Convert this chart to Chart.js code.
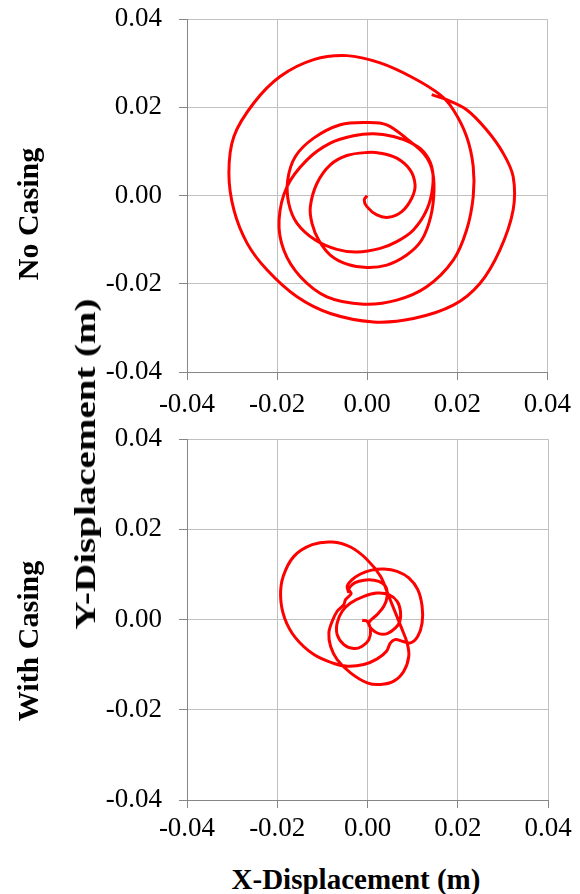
<!DOCTYPE html>
<html lang="en">
<head>
  <meta charset="UTF-8">
  <title>Orbit plots - No Casing / With Casing</title>
  <script src="https://cdn.jsdelivr.net/npm/chart.js"></script>
  <style>
    body { margin: 0; background: #fff; }
    #wrap { position: relative; width: 580px; height: 894px; overflow: hidden; }
    canvas { position: absolute; left: 0; }
    .lbl { position: absolute; font-family: "Liberation Serif", "Times New Roman", serif; font-weight: bold; color: #000; white-space: nowrap; line-height: 1; }
    .rot { transform: translate(-50%, -50%) rotate(-90deg); }
  </style>
</head>
<body>
  <div id="wrap">
    <canvas id="top" style="top:-14px; width:580px; height:434px" width="580" height="434"></canvas>
    <canvas id="bottom" style="top:406px; width:580px; height:454px" width="580" height="454"></canvas>

    <div class="lbl rot" style="left:28px; top:214px; font-size:30px">No Casing</div>
    <div class="lbl rot" style="left:28px; top:641px; font-size:30px">With Casing</div>
    <div class="lbl" style="left:85px; top:464px; font-size:30px; transform: translate(-50%, -50%) rotate(-90deg) scaleX(1.3)">Y-Displacement (m)</div>
    <div class="lbl" style="left:356px; top:879px; font-size:29px; transform: translate(-50%, -50%)">X-Displacement (m)</div>
  </div>

  <script>
    // axis ticks (both axes, both plots)
    const tickValues = [-0.04, -0.02, 0, 0.02, 0.04];
    const tickLabels = ['-0.04', '-0.02', '0.00', '0.02', '0.04'];

    // No Casing orbit (m)
    const noCasingX = [0.0000, -0.00066, -0.00007, 0.00214, 0.00472, 0.00768, 0.00989, 0.01063, 0.00952, 0.00657,
      0.00288, -0.00007, -0.0045, -0.00819, -0.01114, -0.01262, -0.01225, -0.01077, -0.00819, -0.0045,
      -0.00007, 0.00435, 0.00878, 0.0121, 0.0141, 0.01483, 0.01432, 0.01247, 0.00952, 0.00435,
      -0.00044, -0.00598, -0.01188, -0.01594, -0.01764, -0.01742, -0.01557, -0.01151, -0.00672, -0.00229,
      0.00288, 0.00657, 0.01026, 0.01321, 0.01454, 0.01432, 0.01247, 0.00952, 0.00583, 0.0014,
      -0.00303, -0.00819, -0.01336, -0.01779, -0.01956, -0.01852, -0.01483, -0.00893, -0.00081, 0.00657,
      0.01321, 0.01911, 0.02207, 0.02354, 0.02354, 0.02207, 0.01911, 0.01616, 0.01026, 0.00288,
      -0.0045, -0.01188, -0.01926, -0.02517, -0.02959, -0.0307, -0.02959, -0.02664, -0.02221, -0.01557,
      -0.00819, 0.0014, 0.01026, 0.01911, 0.02502, 0.02945, 0.0324, 0.0324, 0.03018, 0.02649,
      0.02207, 0.01764, 0.01432];
    const noCasingY = [0.0000, -0.00098, -0.0025, -0.00439, -0.00492, -0.00364, -0.00061, 0.00242, 0.00583, 0.00849,
      0.00962, 0.00977, 0.00909, 0.00697, 0.0028, -0.0025, -0.00629, -0.01008, -0.01348, -0.01553,
      -0.01629, -0.01576, -0.01348, -0.01008, -0.00477, 0.00129, 0.00621, 0.00962, 0.01227, 0.01606,
      0.01659, 0.01606, 0.01303, 0.00886, 0.00356, -0.00174, -0.00629, -0.01008, -0.0122, -0.0128,
      -0.01197, -0.01045, -0.0078, -0.00326, 0.00205, 0.00659, 0.01, 0.01205, 0.01341, 0.01402,
      0.01356, 0.01189, 0.00811, 0.00205, -0.00553, -0.01235, -0.01841, -0.02296, -0.02462, -0.02371,
      -0.02068, -0.01462, -0.0078, -0.00023, 0.00659, 0.01341, 0.01947, 0.02288, 0.02667, 0.03008,
      0.03174, 0.03083, 0.02705, 0.02099, 0.01341, 0.00508, -0.00326, -0.01083, -0.01689, -0.02296,
      -0.02674, -0.02864, -0.02788, -0.02485, -0.01992, -0.01235, -0.00326, 0.00432, 0.00962, 0.01492,
      0.01947, 0.02174, 0.02288];

    // With Casing orbit (m)
    const withCasingX = [-0.00118, -0.00007, 0.00066, 0.0003, -0.00118, -0.00303, -0.00524, -0.00672, -0.00672, -0.00561,
      -0.00376, -0.00081, 0.00214, 0.00472, 0.00657, 0.00731, 0.00716, 0.0062, 0.00435, 0.00251,
      0.00103, 0.0003, 0.00214, 0.00362, 0.00435, 0.00399, 0.00251, 0.0003, -0.00192, -0.00339,
      -0.00413, -0.00362, -0.00487, -0.00524, -0.00672, -0.00782, -0.00856, -0.00819, -0.00672, -0.00376,
      -0.00007, 0.00288, 0.00583, 0.00804, 0.00915, 0.00878, 0.00768, 0.0062, 0.00472, 0.00288,
      -0.00007, -0.00376, -0.00782, -0.01225, -0.01631, -0.01867, -0.01926, -0.01838, -0.01594, -0.01188,
      -0.00745, -0.0045, -0.00081, 0.00214, 0.00421, 0.00509, 0.0062, 0.00768, 0.00952, 0.01114,
      0.0121, 0.0121, 0.01114, 0.00915, 0.00657, 0.00362, 0.00066, -0.00155, -0.00339, -0.0045,
      -0.00413];
    const withCasingY = [-0.00015, -0.00037, -0.00221, -0.00443, -0.0059, -0.00642, -0.00554, -0.00332, -0.00074, 0.00185,
      0.00369, 0.00517, 0.0059, 0.00554, 0.00406, 0.00185, -0.00037, -0.00185, -0.0031, -0.0031,
      -0.00221, -0.00074, 0.00111, 0.00295, 0.00517, 0.00738, 0.00849, 0.00886, 0.00849, 0.00775,
      0.00664, 0.00576, 0.00443, 0.00332, 0.00185, -0.00037, -0.00295, -0.0059, -0.00886, -0.01181,
      -0.01402, -0.01439, -0.01365, -0.01144, -0.00812, -0.00517, -0.00221, 0.00148, 0.00517, 0.00959,
      0.01328, 0.01609, 0.0172, 0.01661, 0.01402, 0.00959, 0.00517, 0.00037, -0.00406, -0.00775,
      -0.00974, -0.01033, -0.00996, -0.00871, -0.00701, -0.00517, -0.00443, -0.0048, -0.00517, -0.00369,
      -0.00074, 0.00295, 0.00664, 0.00923, 0.0107, 0.01122, 0.01092, 0.01011, 0.00886, 0.00738,
      0.0059];

    const tickFont = { family: "'Liberation Serif', 'Times New Roman', serif", size: 27 };

    function axis(kind, fixedSize, labelPad) {
      return {
        type: 'linear',
        min: -0.04,
        max: 0.04,
        afterBuildTicks: s => { s.ticks = tickValues.map(v => ({ value: v })); },
        afterFit: s => { if (kind === 'x') s.height = fixedSize; else s.width = fixedSize; },
        ticks: {
          color: '#000',
          font: tickFont,
          padding: labelPad,
          maxRotation: 0,
          callback: (v, i) => tickLabels[i]
        },
        grid: { color: '#c0c0c0', lineWidth: 1, tickLength: 8, tickColor: '#868686' },
        border: { color: '#868686', width: 1 }
      };
    }

    function orbitChart(id, xs, ys, xAxisHeight, xPad) {
      return new Chart(document.getElementById(id), {
        type: 'scatter',
        data: {
          datasets: [{
            data: xs.map((x, i) => ({ x: x, y: ys[i] })),
            showLine: true,
            borderColor: '#ff0000',
            borderWidth: 3,
            pointRadius: 0,
            tension: 0.35,
            fill: false
          }]
        },
        options: {
          responsive: false,
          animation: false,
          layout: { padding: { top: 5, right: 32, left: 0, bottom: 0 } },
          plugins: { legend: { display: false }, tooltip: { enabled: false } },
          scales: {
            x: axis('x', xAxisHeight, xPad),
            y: axis('y', 187, 17)
          }
        }
      });
    }

    orbitChart('top', noCasingX, noCasingY, 48, 9);
    orbitChart('bottom', withCasingX, withCasingY, 60, 5);
  </script>
</body>
</html>
